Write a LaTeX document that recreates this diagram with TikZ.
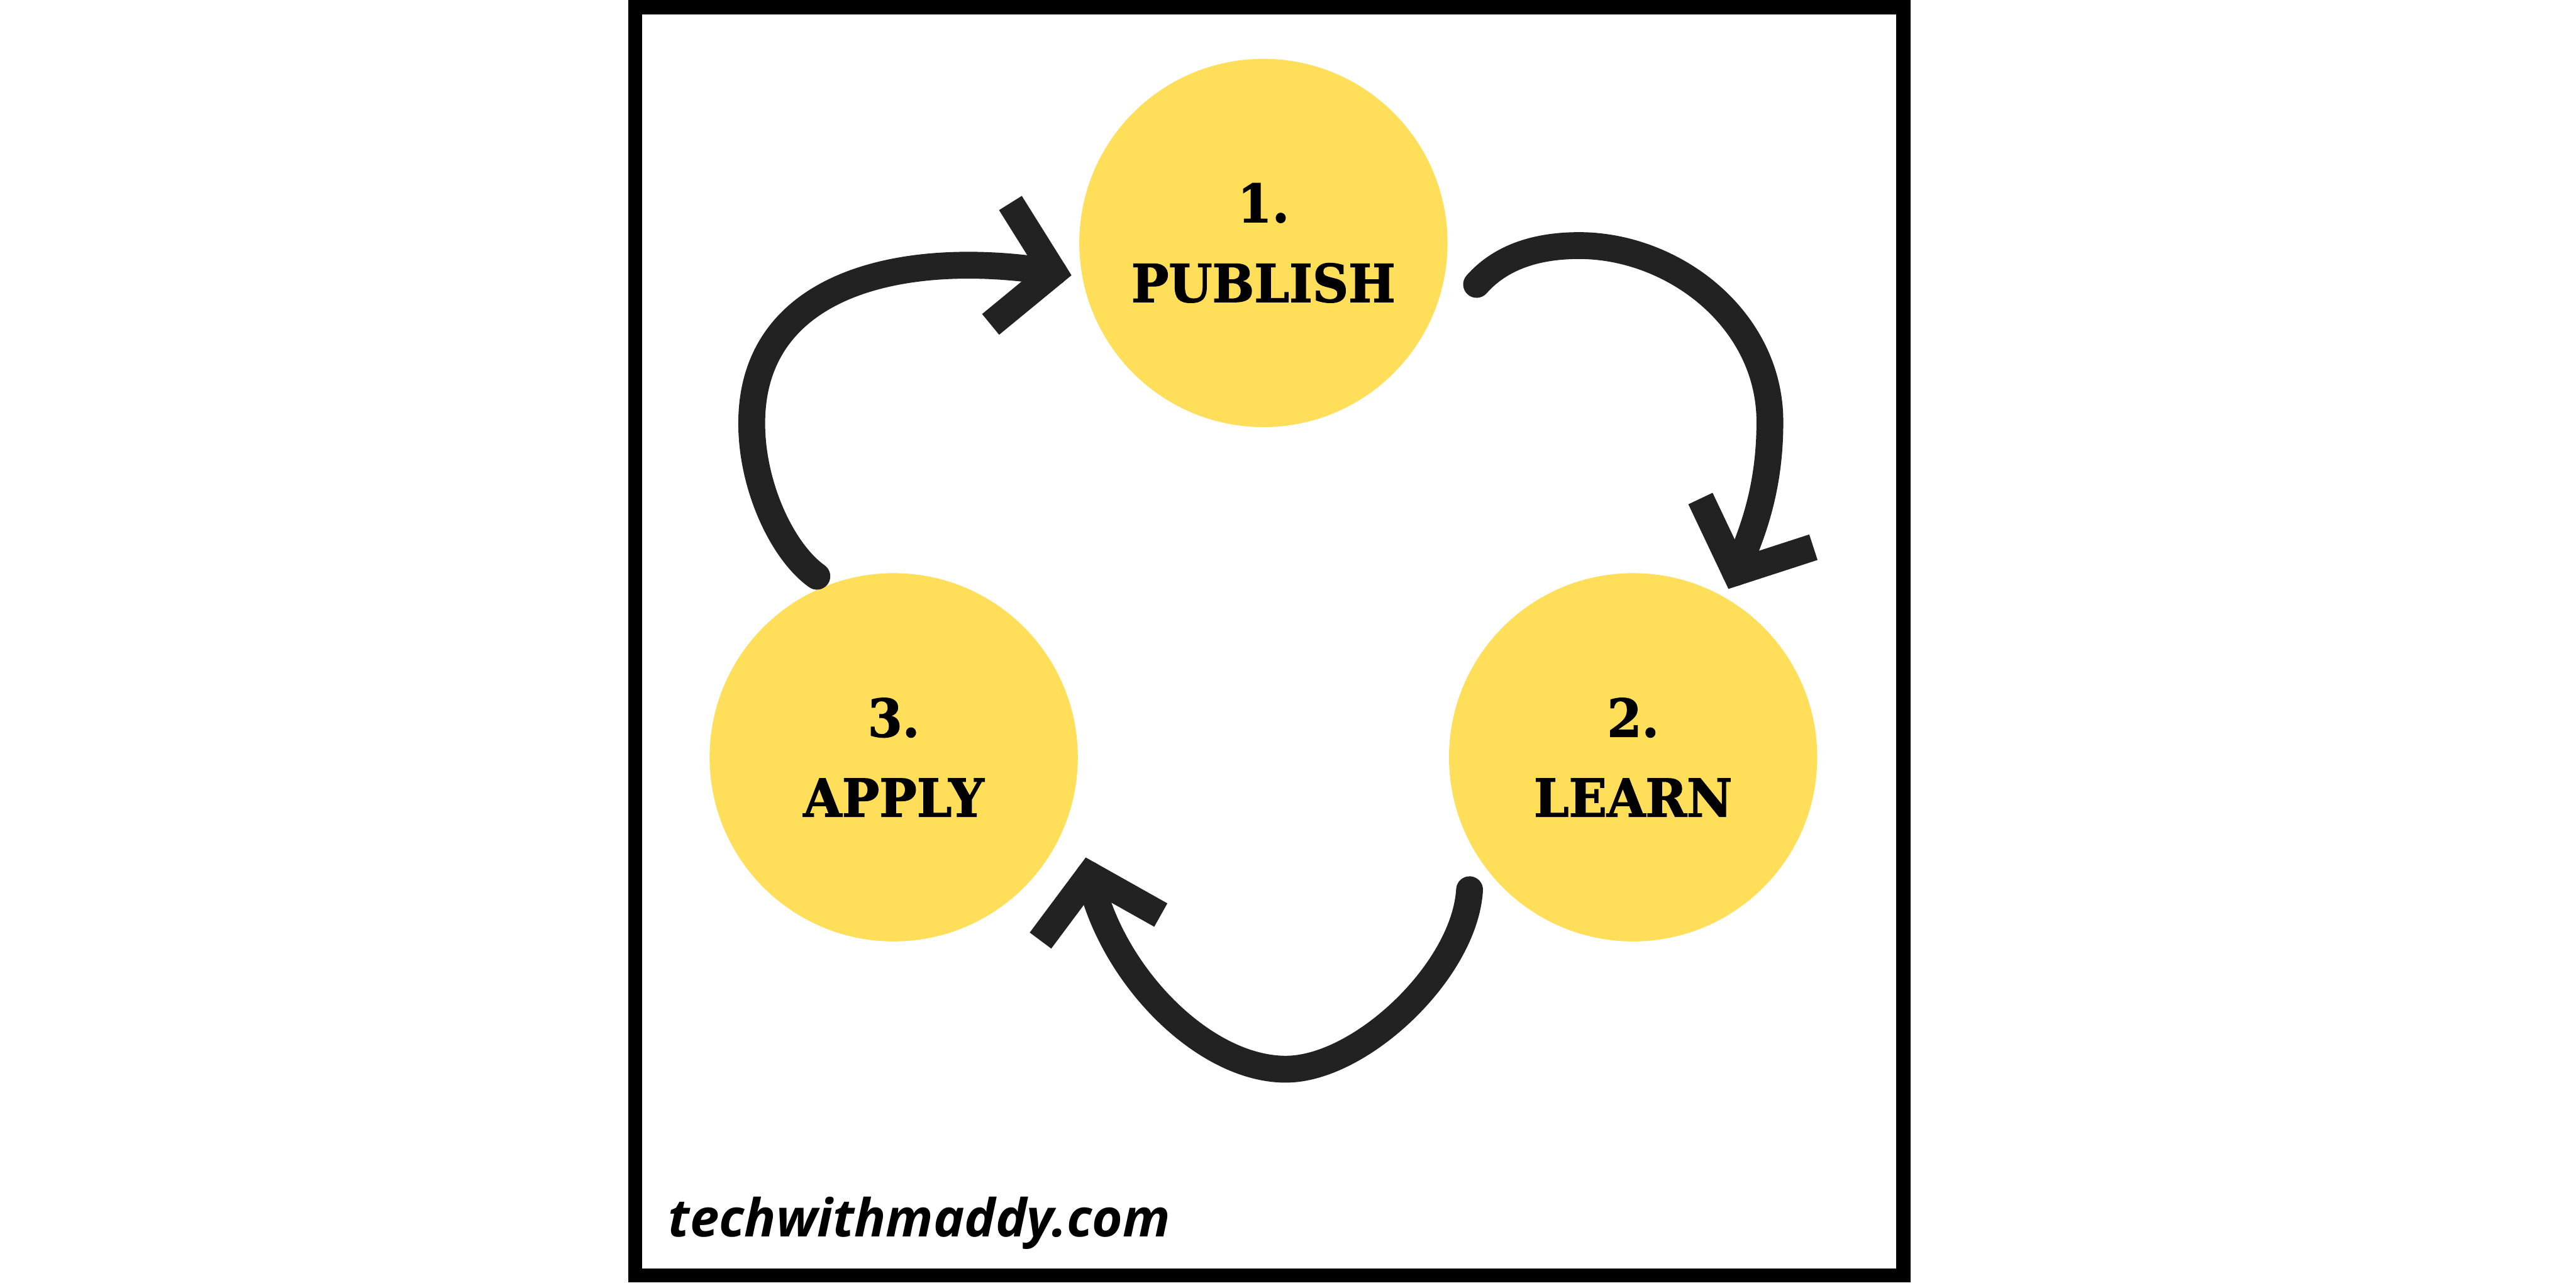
\documentclass[tikz,border=0pt]{standalone}
\usepackage{fontspec}
\usepackage{xcolor}
\usepackage{tikz}
\usetikzlibrary{calc,decorations.markings}
\newfontfamily\stagefont[FakeStretch=0.95, BoldFeatures={FakeBold=1.5}]{DejaVu Serif}
\newfontfamily\sitefont{Open Sans}
\definecolor{sunyellow}{RGB}{255,222,89}
\definecolor{inkgray}{RGB}{34,34,34}

\begin{document}
\begin{tikzpicture}[
  stage/.style={circle, fill=sunyellow, minimum size=9.88cm, inner sep=0pt,
    align=center, font=\stagefont\bfseries\fontsize{40}{61}\selectfont},
  cyclearrow/.style={line width=0.72cm, draw=inkgray, line cap=round,
    postaction={decorate, decoration={markings, mark=at position 0.9999 with {
      \draw[line width=0.72cm, inkgray, line cap=butt, line join=miter]
        (-1.45,1.65) -- (0,0) -- (-1.45,-1.65);}}}},
  site/.style={font=\sitefont\bfseries\itshape\fontsize{40}{48}\selectfont,
    inner sep=0pt},
]
  \useasboundingbox (0,0) rectangle (69.12,34.56);
  \fill[white] (0,0) rectangle (69.12,34.56);
  \draw[line width=0.38cm] (17.04,0.335) rectangle (51.07,34.365);

  \node[stage] (publish) at (33.90,28.04) {1.\\PUBLISH};
  \node[stage] (learn) at (43.82,14.24) {2.\\LEARN};
  \node[stage] (apply) at (23.98,14.24) {3.\\APPLY};

  \draw[cyclearrow] ($(apply.113)+(113:0.33)$)
    .. controls (21.0,19.75) and (20.17,21.5) .. (20.17,23.2)
    .. controls (20.17,27.0) and (24.3,27.9) .. ($(publish.188)+(188:0.73)$);
  \draw[cyclearrow] ($(publish.349)+(349:0.88)$)
    .. controls (40.3,27.7) and (41.3,27.97) .. (42.37,27.97)
    .. controls (44.9,27.97) and (47.49,26.0) .. (47.49,23.24)
    .. controls (47.49,21.4) and (47.0,20.2) .. ($(learn.61)+(61:0.72)$);
  \draw[cyclearrow] ($(learn.219)+(219:0.70)$)
    .. controls (39.3,8.5) and (36.5,5.87) .. (34.50,5.87)
    .. controls (32.3,5.87) and (29.8,8.4) .. ($(apply.329)+(329:1.18)$);

  \node[site, anchor=base west] (site) at (17.93,1.38) {techwithmaddy.com};
\end{tikzpicture}
\end{document}
